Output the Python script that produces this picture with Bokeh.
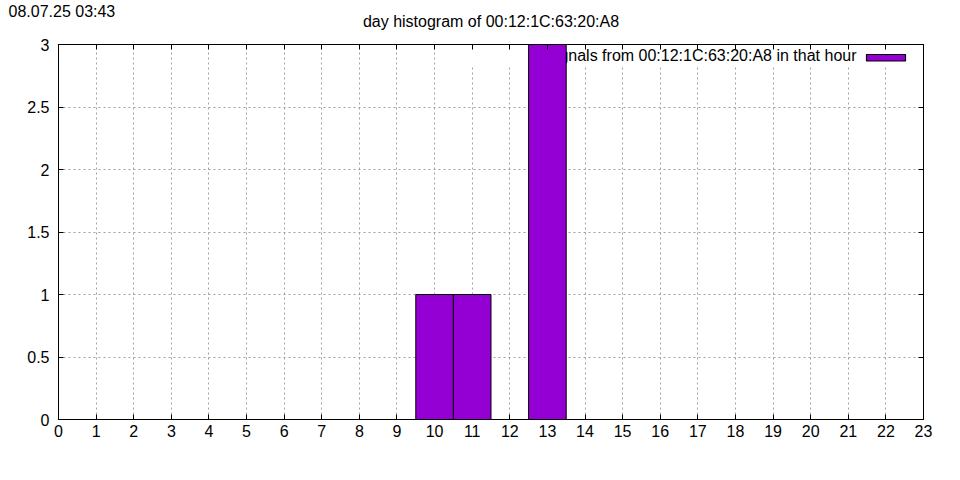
from bokeh.plotting import figure
from bokeh.models import (LinearAxis, FixedTicker, Range1d, Label, BoxAnnotation,
                          ColumnDataSource)
from bokeh.embed import file_html
from bokeh.resources import INLINE

# ---- data ----
hours = list(range(24))
counts = [0, 0, 0, 0, 0, 0, 0, 0, 0, 0, 1, 1, 0, 3, 0, 0, 0, 0, 0, 0, 0, 0, 0, 0]
x_ticks = list(range(24))
x_tick_labels = [str(h) for h in x_ticks]
y_ticks = [0, 0.5, 1, 1.5, 2, 2.5, 3]
y_tick_labels = ["0", "0.5", "1", "1.5", "2", "2.5", "3"]
title_text = "day histogram of 00:12:1C:63:20:A8"
timestamp_text = "08.07.25 03:43"
legend_text = "Signals from 00:12:1C:63:20:A8 in that hour"

FONT = "Liberation Sans"
FS = "16px"
BAR_COLOR = "#9400D3"

bar_x = [h for h, c in zip(hours, counts) if c > 0]
bar_y = [c for c in counts if c > 0]
src = ColumnDataSource(dict(x=bar_x, top=bar_y))

p = figure(width=952, height=472, x_range=Range1d(0, 23), y_range=Range1d(0, 3),
           output_backend="svg", toolbar_location=None, title=None,
           min_border_left=58, min_border_right=29, min_border_top=44,
           min_border_bottom=53, background_fill_color="white",
           border_fill_color="white", outline_line_color="black")


def style_axis(ax, ticks, overrides, show_labels, standoff=8):
    ax.ticker = FixedTicker(ticks=ticks)
    ax.major_label_overrides = {t: l for t, l in zip(ticks, overrides)}
    ax.major_tick_in = 5
    ax.major_tick_out = 0
    ax.minor_tick_in = 0
    ax.minor_tick_out = 0
    ax.axis_line_color = "black"
    ax.major_tick_line_color = "black"
    ax.major_label_text_font = FONT
    ax.major_label_text_font_size = FS
    ax.major_label_text_color = "black"
    ax.major_label_standoff = standoff
    if not show_labels:
        ax.major_label_text_font_size = "0px"
        ax.major_label_text_alpha = 0


style_axis(p.xaxis[0], x_ticks, x_tick_labels, True, 5)
style_axis(p.yaxis[0], y_ticks, y_tick_labels, True, 9)

top_ax = LinearAxis(level="overlay")
right_ax = LinearAxis(level="overlay")
style_axis(top_ax, x_ticks, x_tick_labels, False, 0)
style_axis(right_ax, y_ticks, y_tick_labels, False, 0)
p.add_layout(top_ax, "above")
p.add_layout(right_ax, "right")

for g, ticks in ((p.xgrid[0], x_ticks), (p.ygrid[0], y_ticks)):
    g.ticker = FixedTicker(ticks=ticks)
    g.grid_line_color = "#a0a0a0"
    g.grid_line_dash = "2 3"
    g.grid_line_width = 1

# legend background (white box hiding grid)
p.add_layout(BoxAnnotation(left=412, right=852, bottom=353, top=375,
                           left_units="screen", right_units="screen",
                           top_units="screen", bottom_units="screen",
                           fill_color="white", fill_alpha=1, line_color=None,
                           level="annotation"))
p.add_layout(Label(x=798, y=364, x_units="screen", y_units="screen",
                   text=legend_text, text_align="right", text_baseline="middle",
                   text_font=FONT, text_font_size=FS, text_color="black"))
p.add_layout(BoxAnnotation(left=808, right=847, bottom=358.5, top=365,
                           left_units="screen", right_units="screen",
                           top_units="screen", bottom_units="screen",
                           fill_color=BAR_COLOR, fill_alpha=1, line_color="black",
                           line_alpha=1, line_width=1.2, level="annotation"))

# bars (drawn over the legend like in the original)
p.vbar(x="x", top="top", bottom=0, width=1, source=src, fill_color=BAR_COLOR,
       line_color="black", line_width=1, level="overlay")

# titles placed in the top side panel (so they are not clipped to the frame)
p.add_layout(Label(x=432.5, y=23, x_units="screen", y_units="screen",
                   text=title_text, text_align="center", text_baseline="middle",
                   text_font=FONT, text_font_size=FS, text_color="black"), "above")
p.add_layout(Label(x=-50, y=16.5, x_units="screen", y_units="screen",
                   text=timestamp_text, text_align="left", text_baseline="middle",
                   text_font=FONT, text_font_size=FS, text_color="black"), "above")

open("out.html", "w").write(file_html(p, INLINE))
